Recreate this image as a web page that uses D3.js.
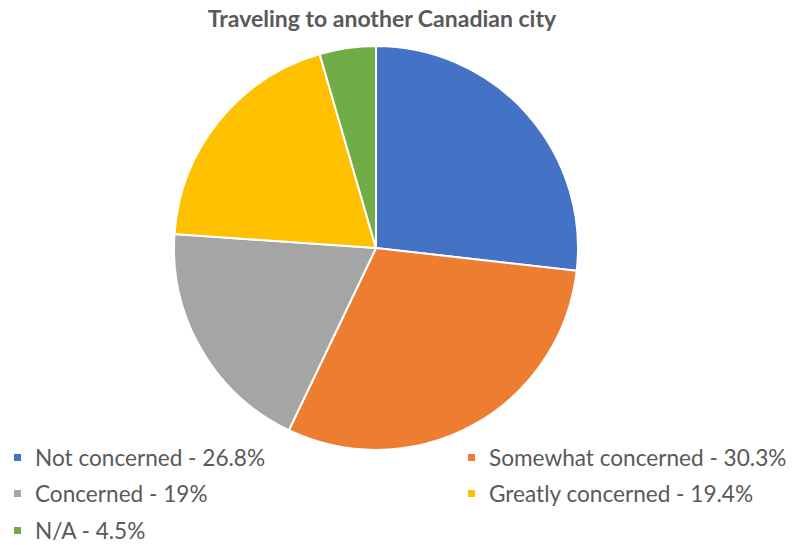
<!DOCTYPE html>
<html><head><meta charset="utf-8">
<script src="https://cdn.jsdelivr.net/npm/d3@7"></script>
<style>body{margin:0;background:#fff}</style>
</head><body>
<svg id="c" width="793" height="545"></svg>
<script>
const categories = ["Not concerned", "Somewhat concerned", "Concerned", "Greatly concerned", "N/A"];
const values = [26.8, 30.3, 19, 19.4, 4.5];
const valueLabels = ["26.8%", "30.3%", "19%", "19.4%", "4.5%"];
const colors = ["#4472C4", "#ED7D31", "#A5A5A5", "#FFC000", "#70AD47"];
const title = "Traveling to another Canadian city";

const svg = d3.select("#c");
const W = 793, H = 545;
svg.append("rect").attr("width", W).attr("height", H).attr("fill", "#fff");

svg.append("text").attr("x", 382).attr("y", 27).attr("text-anchor", "middle")
  .attr("font-family", "Lato, 'Open Sans', sans-serif").attr("font-weight", "bold")
  .attr("font-size", 23).attr("fill", "#595959").text(title);

const cx = 376, cy = 248, r = 202;
const pie = d3.pie().sort(null).value(d => d)(values);
const arc = d3.arc().innerRadius(0).outerRadius(r);
const g = svg.append("g").attr("transform", `translate(${cx},${cy})`);
g.selectAll("path").data(pie).join("path")
  .attr("d", arc).attr("fill", (d, i) => colors[i])
  .attr("stroke", "#fff").attr("stroke-width", 2);

const legendPos = [[14, 458], [468, 458], [14, 494], [468, 494], [14, 531]];
const lg = svg.append("g");
categories.forEach((c, i) => {
  const [x, y] = legendPos[i];
  lg.append("rect").attr("x", x).attr("y", y - 4).attr("width", 7).attr("height", 7).attr("fill", colors[i]);
  lg.append("text").attr("x", x + 21).attr("y", y).attr("dy", "0.35em")
    .attr("font-family", "Lato, 'Open Sans', sans-serif").attr("font-size", 22.6)
    .attr("fill", "#595959").text(`${c} - ${valueLabels[i]}`);
});
</script>
</body></html>
